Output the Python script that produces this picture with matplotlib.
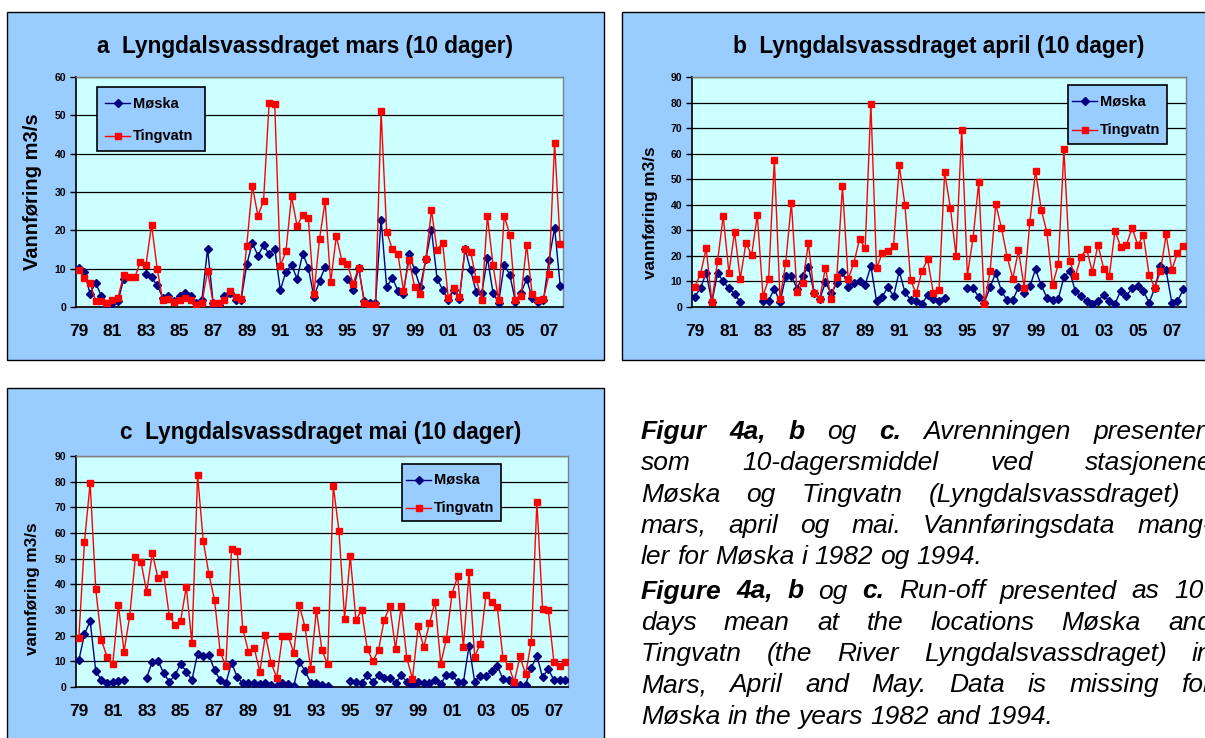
import numpy as np
import matplotlib
matplotlib.use('Agg')
import matplotlib.pyplot as plt
from matplotlib.patches import Rectangle

nan = np.nan

years = ['79', '81', '83', '85', '87', '89', '91', '93', '95', '97', '99', '01', '03', '05', '07']

moska_mars = [10.3, 9.2, 3.5, 6.3, 3.0, 0.9, 1.0, 1.5, 7.2, nan, nan, nan,
              8.7, 7.7, 5.7, 2.4, 2.8, 1.6, 2.9, 3.7, 2.9, 1.1, 1.9, 15.2,
              1.1, 0.5, 3.0, 3.7, 1.9, 1.9, 11.1, 16.7, 13.4, 16.1, 13.7, 15.2,
              4.4, 9.2, 10.9, 7.4, 13.9, 10.3, 2.6, 6.8, 10.4, nan, nan, nan,
              7.4, 4.5, 10.2, 1.6, 1.1, 1.0, 22.8, 5.2, 7.6, 4.3, 3.5, 13.9,
              9.6, 5.2, 12.5, 20.2, 7.4, 4.5, 1.9, 4.5, 2.1, 15.1, 9.6, 3.9,
              3.7, 12.8, 3.7, 1.1, 11.0, 8.4, 1.4, 3.7, 7.3, 2.3, 1.2, 1.7,
              12.2, 20.7, 5.6]
tingvatn_mars = [9.6, 7.6, 6.3, 1.6, 1.6, 1.1, 1.7, 2.4, 8.3, 7.8, 7.7, 11.8,
                 11.0, 21.5, 10.0, 1.7, 2.1, 1.4, 1.7, 2.3, 1.7, 0.6, 1.1, 9.4,
                 1.1, 1.0, 1.7, 4.1, 2.6, 2.1, 16.0, 31.6, 23.8, 27.6, 53.2, 53.0,
                 10.7, 14.5, 28.9, 21.1, 24.1, 23.2, 3.4, 17.7, 27.6, 6.4, 18.5, 12.1,
                 11.2, 6.1, 10.3, 1.0, 0.6, 0.4, 51.1, 19.6, 15.1, 13.9, 4.3, 12.2,
                 5.2, 3.5, 12.5, 25.3, 14.8, 16.8, 2.4, 5.0, 2.6, 15.2, 14.3, 7.2,
                 1.9, 23.8, 10.9, 1.7, 23.7, 18.9, 1.7, 2.8, 16.2, 3.3, 1.7, 2.1,
                 8.5, 42.9, 16.4]

moska_april = [4.0, 7.5, 13.3, 1.8, 13.3, 10.0, 7.3, 5.2, 1.8, nan, nan, nan,
               2.5, 2.5, 7.2, 1.8, 12.0, 12.3, 7.2, 12.3, 15.8, 5.5, 3.2, 9.6,
               5.3, 9.3, 13.8, 8.0, 9.2, 10.2, 8.8, 16.0, 2.4, 4.0, 7.8, 4.2,
               14.0, 5.8, 2.8, 2.5, 1.3, 4.6, 3.3, 2.3, 3.7, nan, nan, nan,
               7.4, 7.3, 3.9, 1.7, 7.8, 13.4, 6.3, 2.6, 2.6, 7.8, 5.5, 8.1,
               14.7, 8.5, 3.7, 2.9, 3.1, 11.7, 14.0, 6.3, 4.2, 2.3, 1.3, 2.3,
               4.8, 2.2, 1.3, 6.3, 4.3, 7.4, 8.1, 6.3, 1.7, 7.4, 16.0, 14.3,
               1.7, 2.2, 6.9]
tingvatn_april = [8.0, 12.9, 22.9, 2.0, 17.9, 35.6, 13.3, 29.5, 11.0, 25.0, 20.3, 36.0,
                  4.2, 11.0, 57.6, 3.0, 17.2, 40.8, 5.7, 9.4, 25.0, 5.5, 3.3, 15.4,
                  3.2, 11.6, 47.3, 10.8, 17.2, 26.5, 23.0, 79.6, 15.2, 21.0, 21.8, 24.0,
                  55.4, 40.0, 10.4, 5.3, 14.1, 18.6, 5.5, 6.5, 52.7, 38.9, 20.1, 69.4,
                  12.3, 27.0, 48.8, 1.0, 14.0, 40.3, 30.9, 19.6, 11.1, 22.2, 7.6, 33.2,
                  53.3, 38.1, 29.3, 8.6, 16.7, 61.7, 18.0, 12.1, 19.6, 22.7, 13.7, 24.4,
                  15.0, 12.3, 29.9, 23.5, 24.3, 30.9, 24.3, 28.0, 12.6, 7.6, 14.0, 28.4,
                  14.5, 21.1, 24.0]

moska_mai = [10.4, 20.6, 25.7, 6.1, 2.7, 1.6, 1.9, 2.3, 2.9, nan, nan, nan,
             3.6, 9.9, 10.3, 5.3, 2.1, 4.5, 9.1, 6.0, 2.7, 13.0, 12.2, 12.6,
             6.5, 2.7, 1.4, 9.5, 3.9, 1.4, 1.4, 1.6, 1.2, 1.6, 0.6, 0.5,
             1.7, 1.0, 0.3, 9.9, 6.2, 1.7, 1.7, 0.9, 0.4, nan, nan, nan,
             2.3, 2.1, 1.7, 4.5, 2.1, 4.5, 3.6, 3.6, 1.4, 4.5, 2.1, 0.6,
             2.1, 1.7, 1.7, 2.7, 1.2, 4.8, 4.8, 2.1, 1.8, 16.0, 2.1, 4.3,
             4.3, 6.2, 8.3, 3.0, 2.6, 0.9, 0.9, 0.9, 7.5, 12.1, 3.8, 7.1,
             2.7, 2.6, 2.7]
tingvatn_mai = [19.1, 56.5, 79.5, 38.0, 18.2, 11.7, 8.8, 31.8, 13.8, 27.7, 50.5, 48.6,
                37.0, 52.2, 42.3, 43.9, 27.7, 24.3, 25.8, 39.0, 17.1, 82.6, 56.9, 44.0,
                33.8, 13.6, 8.2, 53.9, 52.9, 22.5, 13.8, 15.3, 6.0, 20.3, 9.4, 3.6,
                19.7, 20.0, 13.4, 31.8, 23.3, 7.1, 30.0, 14.3, 8.8, 78.4, 60.8, 26.6,
                51.0, 26.0, 30.0, 14.9, 10.1, 14.4, 26.2, 31.4, 14.8, 31.4, 11.2, 3.2,
                23.6, 15.5, 24.8, 33.2, 9.1, 18.7, 36.4, 43.1, 15.5, 44.7, 11.8, 16.9,
                36.0, 33.0, 31.0, 11.3, 8.3, 1.9, 11.9, 4.9, 17.5, 72.1, 30.5, 30.1,
                9.9, 8.2, 9.9]

caption = [("*Figur *4a, *b og *c. Avrenningen presentert", True),
           ("som 10-dagersmiddel ved stasjonene", True),
           ("Møska og Tingvatn (Lyngdalsvassdraget) i", True),
           ("mars, april og mai. Vannføringsdata mang-", True),
           ("ler for Møska i 1982 og 1994.", False),
           ("*Figure *4a, *b og *c. Run-off presented as 10-", True),
           ("days mean at the locations Møska and", True),
           ("Tingvatn (the River Lyngdalsvassdraget) in", True),
           ("Mars, April and May. Data is missing for", True),
           ("Møska in the years 1982 and 1994.", False)]

W, H = 1205, 738
plt.rcParams['font.family'] = ['Liberation Sans', 'DejaVu Sans']
fig = plt.figure(figsize=(W / 100, H / 100), dpi=100)
fig.patch.set_facecolor('white')

bg = fig.add_axes([0, 0, 1, 1], zorder=0)
bg.set_xlim(0, W); bg.set_ylim(H, 0); bg.axis('off')
fg = fig.add_axes([0, 0, 1, 1], zorder=5)
fg.set_xlim(0, W); fg.set_ylim(H, 0); fg.axis('off')
fg.patch.set_alpha(0)


def panel(box, area, title, tpos, ylab, ylx, yly, ylfs, ymax, moska, ting, leg):
    bx0, by0, bx1, by1 = box
    bg.add_patch(Rectangle((bx0, by0), bx1 - bx0, by1 - by0, facecolor='#99CCFF',
                           edgecolor='black', lw=1))
    x0, y0, x1, y1 = area
    ax = fig.add_axes([x0 / W, 1 - y1 / H, (x1 - x0) / W, (y1 - y0) / H], zorder=2)
    ax.set_facecolor('#CCFFFF')
    x = np.arange(len(moska))
    ax.plot(x, moska, color='#000080', lw=1, marker='D', ms=4.3, zorder=3)
    ax.plot(x, ting, color='#FF0000', lw=1, marker='s', ms=4.3, zorder=4)
    ax.set_xlim(-0.5, len(moska) - 0.5)
    ax.set_ylim(0, ymax)
    ax.set_yticks(np.arange(0, ymax + 1, 10))
    ax.yaxis.grid(True, color='black', lw=0.9)
    ax.set_axisbelow(True)
    ax.set_xticks(np.arange(0, len(moska), 6))
    ax.set_xticklabels(years, fontsize=12.5, fontweight='bold')
    ax.tick_params(axis='x', length=0, pad=12)
    ax.tick_params(axis='y', length=4, width=1, labelsize=7.5, pad=3)
    for t in ax.get_yticklabels():
        t.set_fontweight('bold')
    for s in ['left', 'bottom']:
        ax.spines[s].set_color('black'); ax.spines[s].set_linewidth(1.2)
    for s in ['top', 'right']:
        ax.spines[s].set_color('#808080'); ax.spines[s].set_linewidth(1)

    fg.text(tpos[0], tpos[1], title, fontsize=16.3, fontweight='bold', ha='center', va='center')
    fg.text(ylx, yly, ylab, fontsize=ylfs, fontweight='bold', rotation=90,
            ha='center', va='center')

    lx0, ly0, lx1, ly1, lnx0, lnx1, tx, ya, yb = leg
    fg.add_patch(Rectangle((lx0, ly0), lx1 - lx0, ly1 - ly0, facecolor='#99CCFF',
                           edgecolor='black', lw=1.2))
    for yy, col, mk, lab in [(ya, '#000080', 'D', 'Møska'), (yb, '#FF0000', 's', 'Tingvatn')]:
        fg.plot([lnx0, lnx1], [yy, yy], color=col, lw=1)
        fg.plot([(lnx0 + lnx1) / 2], [yy], color=col, marker=mk, ms=4.3)
        fg.text(tx, yy, lab, fontsize=10.5, fontweight='bold', ha='left', va='center')


panel((7, 12, 604, 360), (76, 77, 563, 307), 'a  Lyngdalsvassdraget mars (10 dager)', (305, 46),
      'Vannføring m3/s', 33, 192, 14.5, 60, moska_mars, tingvatn_mars,
      (97, 87, 205, 151, 105, 130, 133, 103, 136))
panel((622, 12, 1215, 360), (692, 77, 1186, 307), 'b  Lyngdalsvassdraget april (10 dager)', (939, 46),
      'vannføring m3/s', 651, 213, 12.3, 90, moska_april, tingvatn_april,
      (1068, 85, 1167, 144, 1072, 1097, 1100, 101, 130))
panel((7, 388, 604, 750), (76, 456, 568, 687), 'c  Lyngdalsvassdraget mai (10 dager)', (321, 432),
      'vannføring m3/s', 33, 589, 12.3, 90, moska_mai, tingvatn_mai,
      (402, 464, 501, 521, 406, 431, 434, 480, 508))

# caption, justified word by word
cap_fs = 19
X0, XR = 641, 1212
fig.canvas.draw()
r = fig.canvas.get_renderer()
for k, (line, justify) in enumerate(caption):
    y = 432 + k * 31.3 + (3 if k >= 5 else 0)
    ts = []
    for w in line.split():
        bold = w.startswith('*')
        ts.append(fg.text(0, y, w.lstrip('*'), fontsize=cap_fs, style='italic',
                          fontweight='bold' if bold else 'normal',
                          ha='left', va='center'))
    widths = [t.get_window_extent(r).width for t in ts]
    gap = (XR - X0 - sum(widths)) / (len(ts) - 1) if justify else cap_fs * 100 / 72 * 0.27
    xx = X0
    for t, wd in zip(ts, widths):
        t.set_x(xx)
        xx += wd + gap

fig.savefig('out.png', dpi=100)
